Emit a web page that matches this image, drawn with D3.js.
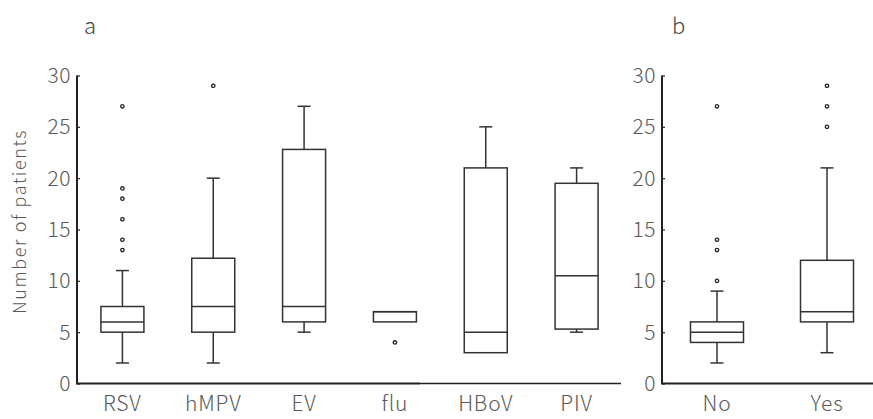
<!DOCTYPE html>
<html>
<head>
<meta charset="utf-8">
<script src="https://cdn.jsdelivr.net/npm/d3@7"></script>
<style>
  body { margin: 0; background: #fff; }
  svg text { font-family: "Noto Sans CJK JP", "Noto Sans", sans-serif; font-weight: 300; fill: #595959; }
</style>
</head>
<body>
<div id="chart"></div>
<script>
// panel a: virus type
var virusNames = ["RSV", "hMPV", "EV", "flu", "HBoV", "PIV"];
var virusLow    = [2, 2, 5, 6, 3, 5];
var virusQ1     = [5, 5, 6, 6, 3, 5.3];
var virusMedian = [6, 7.5, 7.5, 7, 5, 10.5];
var virusQ3     = [7.5, 12.2, 22.8, 7, 21, 19.5];
var virusHigh   = [11, 20, 27, 7, 25, 21];
var virusOutliers = [[13, 14, 16, 18, 19, 27], [29], [], [4], [], []];

// panel b: No / Yes
var groupNames = ["No", "Yes"];
var groupLow    = [2, 3];
var groupQ1     = [4, 6];
var groupMedian = [5, 7];
var groupQ3     = [6, 12];
var groupHigh   = [9, 21];
var groupOutliers = [[10, 13, 14, 27], [25, 27, 29]];

var yTicks = [0, 5, 10, 15, 20, 25, 30];

var width = 873, height = 419;
var svg = d3.select("#chart").append("svg")
    .attr("width", width)
    .attr("height", height);

var y = d3.scaleLinear().domain([0, 30]).range([383.5, 75.5]);

var lineColor = "#333";

function drawPanel(names, low, q1, med, q3, high, outl, x0, x1, axisEnd, boxW, label, labelX) {
  var data = names.map(function(n, i) {
    return { name: n, low: low[i], q1: q1[i], med: med[i], q3: q3[i], high: high[i], out: outl[i] };
  });

  var x = d3.scaleBand().domain(names).range([x0, x1]);
  var g = svg.append("g");

  // y axis, small ticks pointing inward
  var yAxis = d3.axisRight(y).tickValues(yTicks).tickSize(3).tickFormat("");
  var ya = g.append("g").attr("transform", "translate(" + x0 + ",0)").call(yAxis);
  ya.select(".domain").remove();
  ya.selectAll(".tick line").attr("stroke", "#222").attr("stroke-width", 1.2);
  g.selectAll(".ylab").data(yTicks).enter().append("text")
    .attr("x", x0 - 6)
    .attr("y", function(v) { return y(v); })
    .attr("dy", "0.36em")
    .attr("text-anchor", "end")
    .style("font-size", "21px")
    .style("letter-spacing", "0.5px")
    .text(function(v) { return v; });
  g.append("line")
    .attr("x1", x0).attr("x2", x0)
    .attr("y1", y(30)).attr("y2", y(0))
    .attr("stroke", "#222").attr("stroke-width", 2);

  // x axis
  var xAxis = d3.axisBottom(x).tickSize(0).tickPadding(13);
  var xa = g.append("g").attr("transform", "translate(0," + y(0) + ")").call(xAxis);
  xa.select(".domain").remove();
  xa.selectAll("text")
    .style("font-size", "21px")
    .style("letter-spacing", "0.8px")
    .style("font-family", "\"Noto Sans CJK JP\", \"Noto Sans\", sans-serif")
    .style("font-weight", "300")
    .style("fill", "#595959");
  g.append("line")
    .attr("x1", x0 - 1).attr("x2", axisEnd[0])
    .attr("y1", y(0)).attr("y2", y(0))
    .attr("stroke", "#222").attr("stroke-width", 2);
  if (axisEnd.length > 1) {
    g.append("line")
      .attr("x1", axisEnd[0]).attr("x2", axisEnd[1])
      .attr("y1", y(0)).attr("y2", y(0))
      .attr("stroke", "#222").attr("stroke-width", 1.5);
  }

  var cap = 13;
  var box = g.selectAll(".box").data(data).enter().append("g")
    .attr("transform", function(d) { return "translate(" + (x(d.name) + x.bandwidth() / 2) + ",0)"; });

  // whiskers
  box.append("line")
    .attr("x1", 0).attr("x2", 0)
    .attr("y1", function(d) { return y(d.q3); })
    .attr("y2", function(d) { return y(d.high); })
    .attr("stroke", lineColor).attr("stroke-width", 1.5);
  box.append("line")
    .attr("x1", 0).attr("x2", 0)
    .attr("y1", function(d) { return y(d.q1); })
    .attr("y2", function(d) { return y(d.low); })
    .attr("stroke", lineColor).attr("stroke-width", 1.5);
  box.filter(function(d) { return d.high > d.q3; }).append("line")
    .attr("x1", -cap / 2).attr("x2", cap / 2)
    .attr("y1", function(d) { return y(d.high); })
    .attr("y2", function(d) { return y(d.high); })
    .attr("stroke", lineColor).attr("stroke-width", 1.5);
  box.filter(function(d) { return d.low < d.q1; }).append("line")
    .attr("x1", -cap / 2).attr("x2", cap / 2)
    .attr("y1", function(d) { return y(d.low); })
    .attr("y2", function(d) { return y(d.low); })
    .attr("stroke", lineColor).attr("stroke-width", 1.5);

  box.append("rect")
    .attr("x", -boxW / 2)
    .attr("width", boxW)
    .attr("y", function(d) { return y(d.q3); })
    .attr("height", function(d) { return y(d.q1) - y(d.q3); })
    .attr("fill", "#fff")
    .attr("stroke", lineColor).attr("stroke-width", 1.5);
  box.append("line")
    .attr("x1", -boxW / 2).attr("x2", boxW / 2)
    .attr("y1", function(d) { return y(d.med); })
    .attr("y2", function(d) { return y(d.med); })
    .attr("stroke", lineColor).attr("stroke-width", 1.5);

  box.selectAll("circle")
    .data(function(d) { return d.out; })
    .enter().append("circle")
    .attr("cx", 0)
    .attr("cy", function(v) { return y(v); })
    .attr("r", 1.7)
    .attr("fill", "none")
    .attr("stroke", "#222").attr("stroke-width", 1.3);

  svg.append("text")
    .attr("x", labelX).attr("y", 34)
    .style("font-size", "22px")
    .style("font-weight", "200")
    .style("fill", "#444")
    .text(label);
}

drawPanel(virusNames, virusLow, virusQ1, virusMedian, virusQ3, virusHigh, virusOutliers,
  77, 622, [420, 621], 43, "a", 84);
drawPanel(groupNames, groupLow, groupQ1, groupMedian, groupQ3, groupHigh, groupOutliers,
  662, 882, [873], 53, "b", 672);

svg.append("text")
  .attr("transform", "translate(26," + ((y(0) + y(30)) / 2 - 8) + ") rotate(-90)")
  .attr("text-anchor", "middle")
  .style("font-size", "18px")
  .style("letter-spacing", "1.6px")
  .text("Number of patients");
</script>
</body>
</html>
